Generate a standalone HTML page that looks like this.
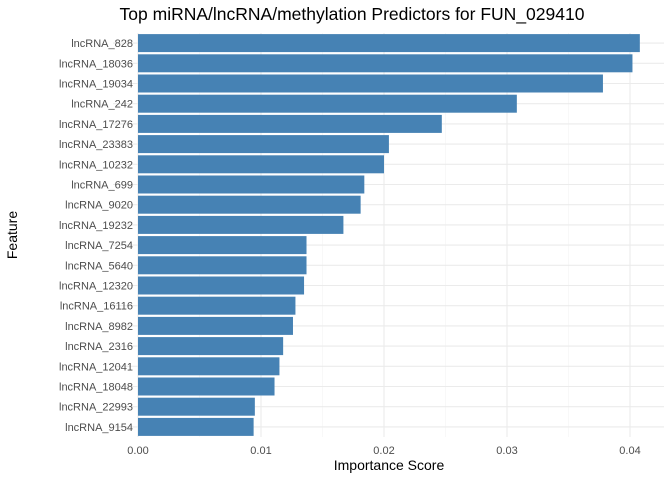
<!DOCTYPE html>
<html><head><meta charset="utf-8"><style>
html,body{margin:0;padding:0;background:#fff}
svg{display:block;font-family:"Liberation Sans",sans-serif}
</style></head><body>
<svg id="chart" width="672" height="480">
<text x="352" y="20" text-anchor="middle" font-size="17.5" fill="#000">Top miRNA/lncRNA/methylation Predictors for FUN_029410</text>
<g id="grid"></g><g id="bars"></g><g id="ylab"></g><g id="xlab"></g>
<text x="389" y="470" text-anchor="middle" font-size="14" fill="#000">Importance Score</text>
<text transform="translate(17,235) rotate(-90)" text-anchor="middle" font-size="14" fill="#000">Feature</text>
</svg>
<script>
const categories=["lncRNA_828","lncRNA_18036","lncRNA_19034","lncRNA_242","lncRNA_17276","lncRNA_23383","lncRNA_10232","lncRNA_699","lncRNA_9020","lncRNA_19232","lncRNA_7254","lncRNA_5640","lncRNA_12320","lncRNA_16116","lncRNA_8982","lncRNA_2316","lncRNA_12041","lncRNA_18048","lncRNA_22993","lncRNA_9154"];
const values=[0.0408,0.0402,0.0378,0.0308,0.0247,0.0204,0.0200,0.0184,0.0181,0.0167,0.0137,0.0137,0.0135,0.0128,0.0126,0.0118,0.0115,0.0111,0.0095,0.0094];
const ticks=[0,0.01,0.02,0.03,0.04];
const tickLabels=["0.00","0.01","0.02","0.03","0.04"];
const NS="http://www.w3.org/2000/svg";
const x=v=>138+v*12300;
const top0=33, step=20.2, bh=18;
const y=i=>top0+i*step+(step-bh)/2;
function mk(t,a,p){const e=document.createElementNS(NS,t);for(const k in a)e.setAttribute(k,a[k]);p.appendChild(e);return e;}
const g=document.getElementById('grid');
for(let i=0;i<ticks.length;i++){
  const l=mk('line',{x1:x(ticks[i]),x2:x(ticks[i]),y1:33,y2:437,stroke:'#ebebeb','stroke-width':1.1},g);
  
  
  if(i<ticks.length-1){
    const m=mk('line',{x1:x((ticks[i]+ticks[i+1])/2),x2:x((ticks[i]+ticks[i+1])/2),y1:33,y2:437,stroke:'#f3f3f3','stroke-width':0.6},g);
    
    
  }
  const t=mk('text',{x:x(ticks[i]),y:454,'text-anchor':'middle','font-size':11,fill:'#4d4d4d'},document.getElementById('xlab'));
  t.textContent=tickLabels[i];
  
  
}
const b=document.getElementById('bars');
categories.forEach((c,i)=>{
  const gl=mk('line',{x1:113,x2:664,y1:y(i)+bh/2,y2:y(i)+bh/2,stroke:'#ebebeb','stroke-width':1.1},g);
  
  
  const r=mk('rect',{x:x(0),y:y(i),width:x(values[i])-x(0),height:bh,fill:'#4682b4'},b);
  
  
  const t=mk('text',{x:133,y:y(i)+bh/2+4,'text-anchor':'end','font-size':11,fill:'#4d4d4d'},document.getElementById('ylab'));
  t.textContent=c;
  
  
});
</script>
</body></html>
